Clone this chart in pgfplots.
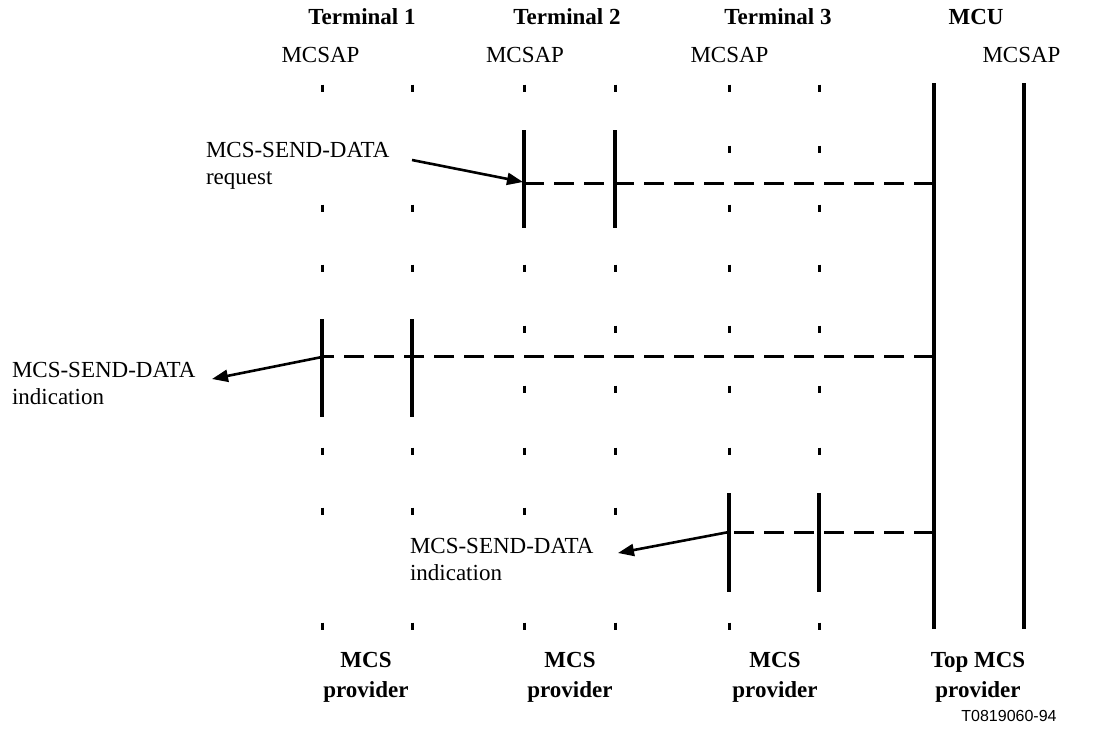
\documentclass[border=0pt]{standalone}
\usepackage{pgfplots}
\pgfplotsset{compat=1.18}
\usepackage{fontspec}
\setmainfont{Liberation Serif}
\newfontfamily\arialfont{Liberation Sans}
\usetikzlibrary{arrows.meta}
\tikzset{lbl/.style={inner sep=0pt, outer sep=0pt, font=\fontsize{11.5}{13}\selectfont}}
\begin{document}
\begin{tikzpicture}
\begin{axis}[
  width=546.5pt, height=365pt, scale only axis,
  xmin=0, xmax=1093, ymin=0, ymax=730, y dir=reverse,
  hide axis, clip=false, unbounded coords=jump,
]
\path (axis cs:0,0) rectangle (axis cs:1093,730);
% small ticks on the service access points
\addplot[only marks, mark=|, mark size=1.75pt, mark options={line width=1.5pt}] coordinates {
 (322,88) (322,208) (322,268) (322,451) (322,511) (322,626)
 (412,88) (412,208) (412,268) (412,451) (412,511) (412,626)
 (524,88) (524,268) (524,329) (524,389) (524,451) (524,511) (524,626)
 (615,88) (615,268) (615,329) (615,389) (615,451) (615,511) (615,626)
 (729,88) (729,149) (729,208) (729,268) (729,329) (729,389) (729,451) (729,626)
 (819,88) (819,149) (819,208) (819,268) (819,329) (819,389) (819,451) (819,626)
};
% long vertical lines
\addplot[line width=1.7pt] coordinates {
 (934,83) (934,629) (934,nan)
 (1024,83) (1024,629) (1024,nan)
 (524,130) (524,228) (524,nan)
 (615,130) (615,228) (615,nan)
 (322,319) (322,417) (322,nan)
 (412,319) (412,417) (412,nan)
 (729,493) (729,592) (729,nan)
 (819,493) (819,592)
};
% dashed data flows
\addplot[line width=1.5pt, dash pattern=on 10pt off 5pt] coordinates {(934,183) (524,183)};
\addplot[line width=1.5pt, dash pattern=on 10pt off 5pt] coordinates {(934,356) (322,356)};
\addplot[line width=1.5pt, dash pattern=on 10pt off 5pt] coordinates {(934,532) (729,532)};
% arrows
\addplot[line width=1.3pt, -{Triangle[length=8pt,width=6pt]}] coordinates {(412,160) (523,182)};
\addplot[line width=1.3pt, -{Triangle[length=8pt,width=6pt]}] coordinates {(322,357) (212,379)};
\addplot[line width=1.3pt, -{Triangle[length=8pt,width=6pt]}] coordinates {(729,532) (618,553)};
% headings
\node[lbl, anchor=base] at (axis cs:362,24) {\bfseries Terminal 1};
\node[lbl, anchor=base] at (axis cs:567,24) {\bfseries Terminal 2};
\node[lbl, anchor=base] at (axis cs:778,24) {\bfseries Terminal 3};
\node[lbl, anchor=base] at (axis cs:976,24) {\bfseries MCU};
\node[lbl, anchor=base] at (axis cs:320.5,62) {MCSAP};
\node[lbl, anchor=base] at (axis cs:525,62) {MCSAP};
\node[lbl, anchor=base] at (axis cs:729.5,62) {MCSAP};
\node[lbl, anchor=base] at (axis cs:1021.5,62) {MCSAP};
% primitive labels
\node[lbl, anchor=base west] at (axis cs:206,157) {MCS-SEND-DATA};
\node[lbl, anchor=base west] at (axis cs:206,184) {request};
\node[lbl, anchor=base west] at (axis cs:12,377) {MCS-SEND-DATA};
\node[lbl, anchor=base west] at (axis cs:12,404) {indication};
\node[lbl, anchor=base west] at (axis cs:410,553) {MCS-SEND-DATA};
\node[lbl, anchor=base west] at (axis cs:410,580) {indication};
% bottom labels
\node[lbl, anchor=base] at (axis cs:366,667) {\bfseries MCS};
\node[lbl, anchor=base] at (axis cs:366,697) {\bfseries provider};
\node[lbl, anchor=base] at (axis cs:570,667) {\bfseries MCS};
\node[lbl, anchor=base] at (axis cs:570,697) {\bfseries provider};
\node[lbl, anchor=base] at (axis cs:775,667) {\bfseries MCS};
\node[lbl, anchor=base] at (axis cs:775,697) {\bfseries provider};
\node[lbl, anchor=base] at (axis cs:978,667) {\bfseries Top MCS};
\node[lbl, anchor=base] at (axis cs:978,697) {\bfseries provider};
\node[inner sep=0pt, anchor=base east, font=\arialfont\fontsize{8}{9}\selectfont] at (axis cs:1057,721) {T0819060-94};
\end{axis}
\end{tikzpicture}
\end{document}
